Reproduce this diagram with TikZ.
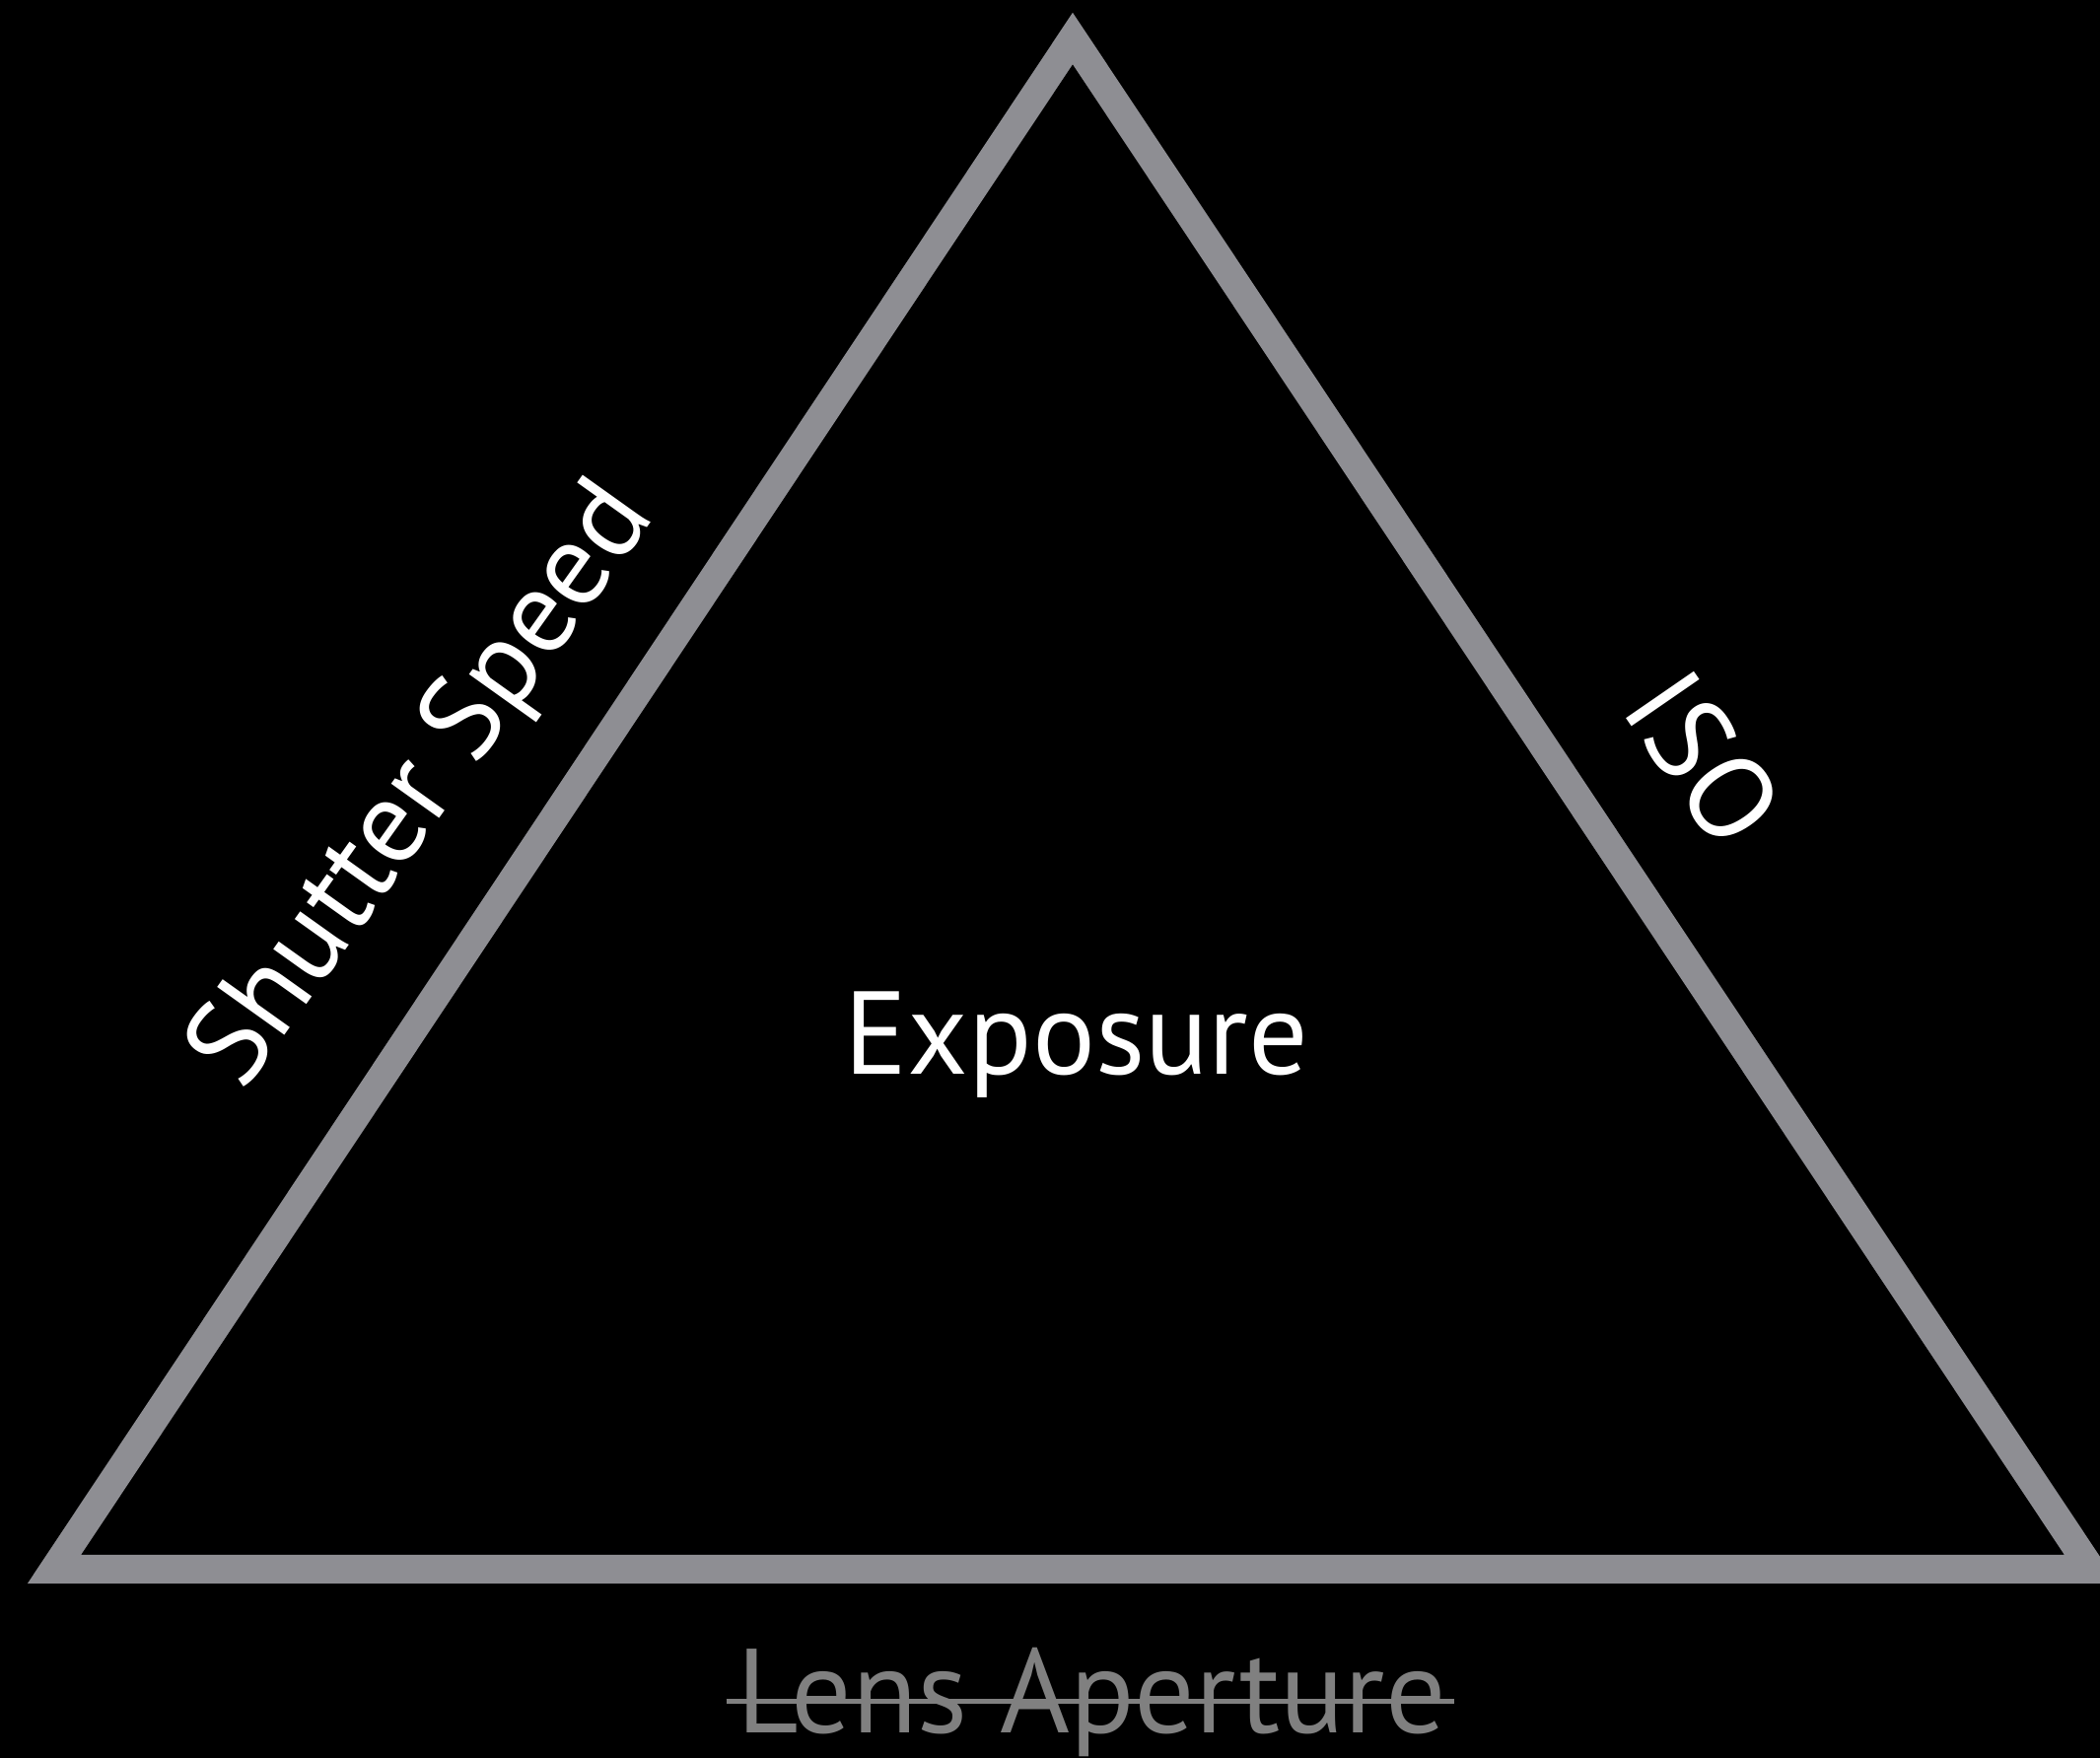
\documentclass[tikz,border=0pt]{standalone}
\usepackage{fontspec}
\setmainfont{PT Sans}
\definecolor{trigrey}{RGB}{142,142,147}
\definecolor{lensgrey}{RGB}{128,128,128}
\begin{document}
\begin{tikzpicture}[x=0.01cm,y=-0.01cm,
  tri/.style={draw=trigrey,line width=0.29cm,line join=miter},
  lbl/.style={text=white,font=\fontsize{34}{40}\selectfont,inner sep=0pt,anchor=base},
  dim/.style={text=lensgrey,font=\fontsize{34.5}{40}\selectfont,inner sep=0pt,anchor=base},
  strike/.style={draw=lensgrey,line width=0.05cm}]
\fill[black] (0,0) rectangle (2130,1783);
\useasboundingbox (0,0) rectangle (2130,1783);
\clip (0,0) rectangle (2130,1783);
\coordinate (A) at (1088,39);
\coordinate (B) at (55,1591.5);
\coordinate (C) at (2121,1591.5);
\draw[tri] (A) -- (B) -- (C) -- cycle;
\node[lbl] (exp) at (1092,1090) {Exposure};
\node[lbl,rotate=54.5] (ss) at (455.6,816.3) {Shutter Speed};
\node[lbl,rotate=-55.4] (iso) at (1694,793) {ISO};
\node[dim] (la) at (1107,1757) {Lens Aperture};
\coordinate (s1) at ([shift={(-10,-32)}]la.base west);
\coordinate (s2) at ([shift={(7,-32)}]la.base east);
\draw[strike] (s1) -- (s2);
\end{tikzpicture}
\end{document}
